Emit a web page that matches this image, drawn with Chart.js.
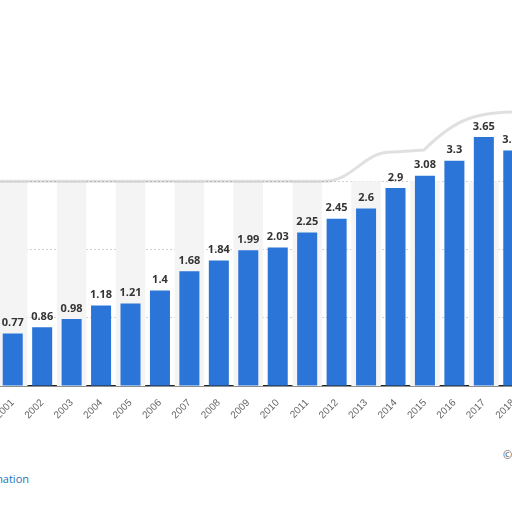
<!DOCTYPE html>
<html><head><meta charset="utf-8">
<script src="https://cdn.jsdelivr.net/npm/chart.js@4"></script>
<style>
html,body{margin:0;width:512px;height:512px;overflow:hidden;background:#fff;position:relative;font-family:"Open Sans",Arial,sans-serif}
#wrap{position:absolute;left:-6px;top:0;width:534px;height:430px}
#foot{position:absolute;left:-87px;top:471px;font-size:11px;color:#1a73b8;white-space:nowrap}
#copy{position:absolute;left:503px;top:447px;font-size:11px;color:#555;white-space:nowrap}
</style></head><body>
<div id="wrap"><canvas id="c"></canvas></div>
<div id="foot">Additional Information</div>
<div id="copy">© Statista 2021</div>
<script>
const years=["2001","2002","2003","2004","2005","2006","2007","2008","2009","2010","2011","2012","2013","2014","2015","2016","2017","2018"];
const values=[0.77,0.86,0.98,1.18,1.21,1.4,1.68,1.84,1.99,2.03,2.25,2.45,2.6,2.9,3.08,3.3,3.65,3.45];
const yTicks=[0,1,2,3,4];
const bg={id:'bg',beforeDatasetsDraw(ch){const {ctx,chartArea:a,scales:{x,y}}=ch;const top=y.getPixelForValue(3);
 ctx.save();const w=x.getPixelForValue(1)-x.getPixelForValue(0);
 years.forEach((_,i)=>{if(i%2===0){ctx.fillStyle='#f4f4f4';ctx.fillRect(x.getPixelForValue(i)-w/2,top,w,a.bottom-top);}});
 ctx.strokeStyle='rgba(0,0,0,0.12)';ctx.lineWidth=3;ctx.beginPath();ctx.moveTo(0,top);ctx.lineTo(330,top);
 ctx.bezierCurveTo(360,top,370,150,400,152);ctx.lineTo(430,150);ctx.bezierCurveTo(460,120,480,110,540,112);ctx.stroke();ctx.restore();},
 afterDatasetsDraw(ch){const {ctx}=ch;const m=ch.getDatasetMeta(0);ctx.save();ctx.font='bold 11px "Open Sans",sans-serif';ctx.fillStyle='#333';ctx.textAlign='center';ctx.textBaseline='bottom';
 m.data.forEach((b,i)=>ctx.fillText(String(values[i]),b.x,b.y-5));ctx.restore();}};
new Chart(document.getElementById('c'),{type:'bar',data:{labels:years,datasets:[{data:values,backgroundColor:'#2b74d8',barPercentage:0.68,categoryPercentage:1}]},
options:{responsive:true,maintainAspectRatio:false,animation:false,layout:{padding:{top:113,left:0,right:0,bottom:0}},
plugins:{legend:{display:false},tooltip:{enabled:false}},
scales:{y:{display:true,min:0,max:4,afterFit:s=>{s.width=0},ticks:{display:false,stepSize:1},border:{display:false},
 grid:{color:c=>c.tick&&c.tick.value>0&&c.tick.value<4?'#d0d0d0':'rgba(0,0,0,0)',drawTicks:false,tickBorderDash:[2,2]},border:{display:false,dash:[2,2]}},
x:{afterFit:s=>{s.height=44},grid:{display:false},border:{display:true,color:'#222',width:1.5},
 ticks:{color:'#666',font:{size:10},minRotation:45,maxRotation:45}}}},plugins:[bg]});
</script></body></html>
